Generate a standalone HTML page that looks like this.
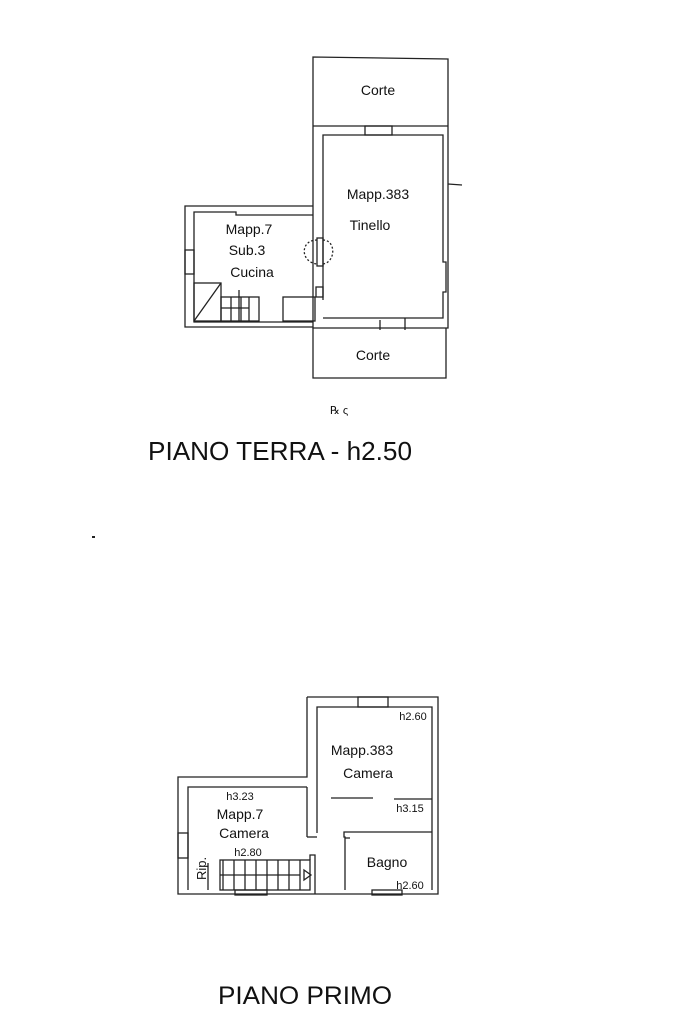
<!DOCTYPE html>
<html><head><meta charset="utf-8"><style>
html,body{margin:0;padding:0;background:#fff;}
svg{display:block;}
text{font-family:"Liberation Sans",sans-serif;fill:#111;}
</style></head><body>
<svg width="683" height="1023" viewBox="0 0 683 1023" xmlns="http://www.w3.org/2000/svg">
<g stroke="#222" stroke-width="1.3" fill="none">
<!-- Ground floor -->
<!-- Corte top -->
<polyline points="313,126 313,57 448,59 448,126"/>
<line x1="313" y1="126" x2="448" y2="126"/>
<rect x="365" y="126" width="27" height="9"/>
<!-- Tinello -->
<polyline points="313,126 313,328 448,328 448,126"/>
<polyline points="323,300 323,135 443,135 443,262 446,262 446,292 443,292 443,318 323,318"/>
<rect x="317" y="238" width="6" height="28"/>
<path d="M317,240 C300,240 300,262 317,264" stroke-dasharray="2,2"/>
<path d="M323,240 C336,240 336,262 323,264" stroke-dasharray="2,2"/>
<rect x="316" y="287" width="7" height="10"/>
<line x1="448" y1="184" x2="462" y2="185"/>
<!-- Cucina -->
<polyline points="313,206 185,206 185,327 313,327"/>
<polyline points="313,215 236,215 236,212 194,212 194,322 313,322"/>
<rect x="185" y="250" width="9" height="24"/>
<rect x="194" y="283" width="27" height="38"/>
<line x1="194" y1="321" x2="221" y2="283"/>
<rect x="221" y="297" width="38" height="24"/>
<line x1="231" y1="297" x2="231" y2="321"/><line x1="241" y1="297" x2="241" y2="321"/><line x1="249" y1="297" x2="249" y2="321"/>
<line x1="221" y1="308" x2="249" y2="308"/>
<rect x="283" y="297" width="32" height="24"/>
<line x1="239" y1="290" x2="239" y2="321"/>
<!-- Corte bottom -->
<polyline points="313,328 313,378 446,378 446,328"/>
<line x1="380" y1="320" x2="380" y2="330"/><line x1="405" y1="318" x2="405" y2="330"/>
<!-- First floor -->
<polyline points="307,697 438,697 438,894 178,894 178,777 307,777 307,697"/>
<polyline points="317,833 317,707 432,707 432,890"/>
<rect x="358" y="697" width="30" height="10"/>
<polyline points="188,890 188,787 307,787"/>
<line x1="307" y1="787" x2="307" y2="837"/>
<polyline points="307,837 317,837"/>
<line x1="394" y1="799" x2="432" y2="799"/>
<line x1="331" y1="798" x2="373" y2="798"/>
<rect x="178" y="833" width="10" height="25"/>
<polyline points="345,890 345,837 344,837 344,832 432,832"/>
<line x1="345" y1="838" x2="350" y2="838"/>
<polyline points="208,890 208,863"/>
<rect x="220" y="860" width="90" height="30"/>
<line x1="223" y1="860" x2="223" y2="890"/>
<line x1="234" y1="860" x2="234" y2="890"/><line x1="245" y1="860" x2="245" y2="890"/><line x1="256" y1="860" x2="256" y2="890"/><line x1="267" y1="860" x2="267" y2="890"/><line x1="278" y1="860" x2="278" y2="890"/><line x1="289" y1="860" x2="289" y2="890"/><line x1="300" y1="860" x2="300" y2="890"/>
<line x1="220" y1="875" x2="300" y2="875"/>
<polygon points="304,870 311,875 304,880"/>
<polyline points="310,860 310,855 315,855 315,894"/>
<rect x="235" y="890" width="32" height="5"/>
<rect x="372" y="890" width="30" height="5"/>
</g>
<g font-size="14">
<text x="378" y="95" text-anchor="middle">Corte</text>
<text x="378" y="199" text-anchor="middle">Mapp.383</text>
<text x="370" y="230" text-anchor="middle">Tinello</text>
<text x="249" y="234" text-anchor="middle">Mapp.7</text>
<text x="247" y="255" text-anchor="middle">Sub.3</text>
<text x="252" y="277" text-anchor="middle">Cucina</text>
<text x="373" y="360" text-anchor="middle">Corte</text>
<text x="362" y="755" text-anchor="middle">Mapp.383</text>
<text x="368" y="778" text-anchor="middle">Camera</text>
<text x="240" y="819" text-anchor="middle">Mapp.7</text>
<text x="244" y="838" text-anchor="middle">Camera</text>
<text x="387" y="867" text-anchor="middle">Bagno</text>
<text transform="translate(206,880) rotate(-90)" font-size="13">Rip.</text>
</g>
<g font-size="11">
<text x="413" y="720" text-anchor="middle">h2.60</text>
<text x="410" y="812" text-anchor="middle">h3.15</text>
<text x="240" y="800" text-anchor="middle">h3.23</text>
<text x="248" y="856" text-anchor="middle">h2.80</text>
<text x="410" y="889" text-anchor="middle">h2.60</text>
</g>
<text x="148" y="460" font-size="26" textLength="264" lengthAdjust="spacingAndGlyphs">PIANO TERRA - h2.50</text>
<text x="218" y="1004" font-size="25" textLength="174" lengthAdjust="spacingAndGlyphs">PIANO PRIMO</text>
<text x="330" y="414" font-size="11" fill="#555">℞ ς</text>
<rect x="92" y="536" width="3" height="2" fill="#222"/>
</svg>
</body></html>
